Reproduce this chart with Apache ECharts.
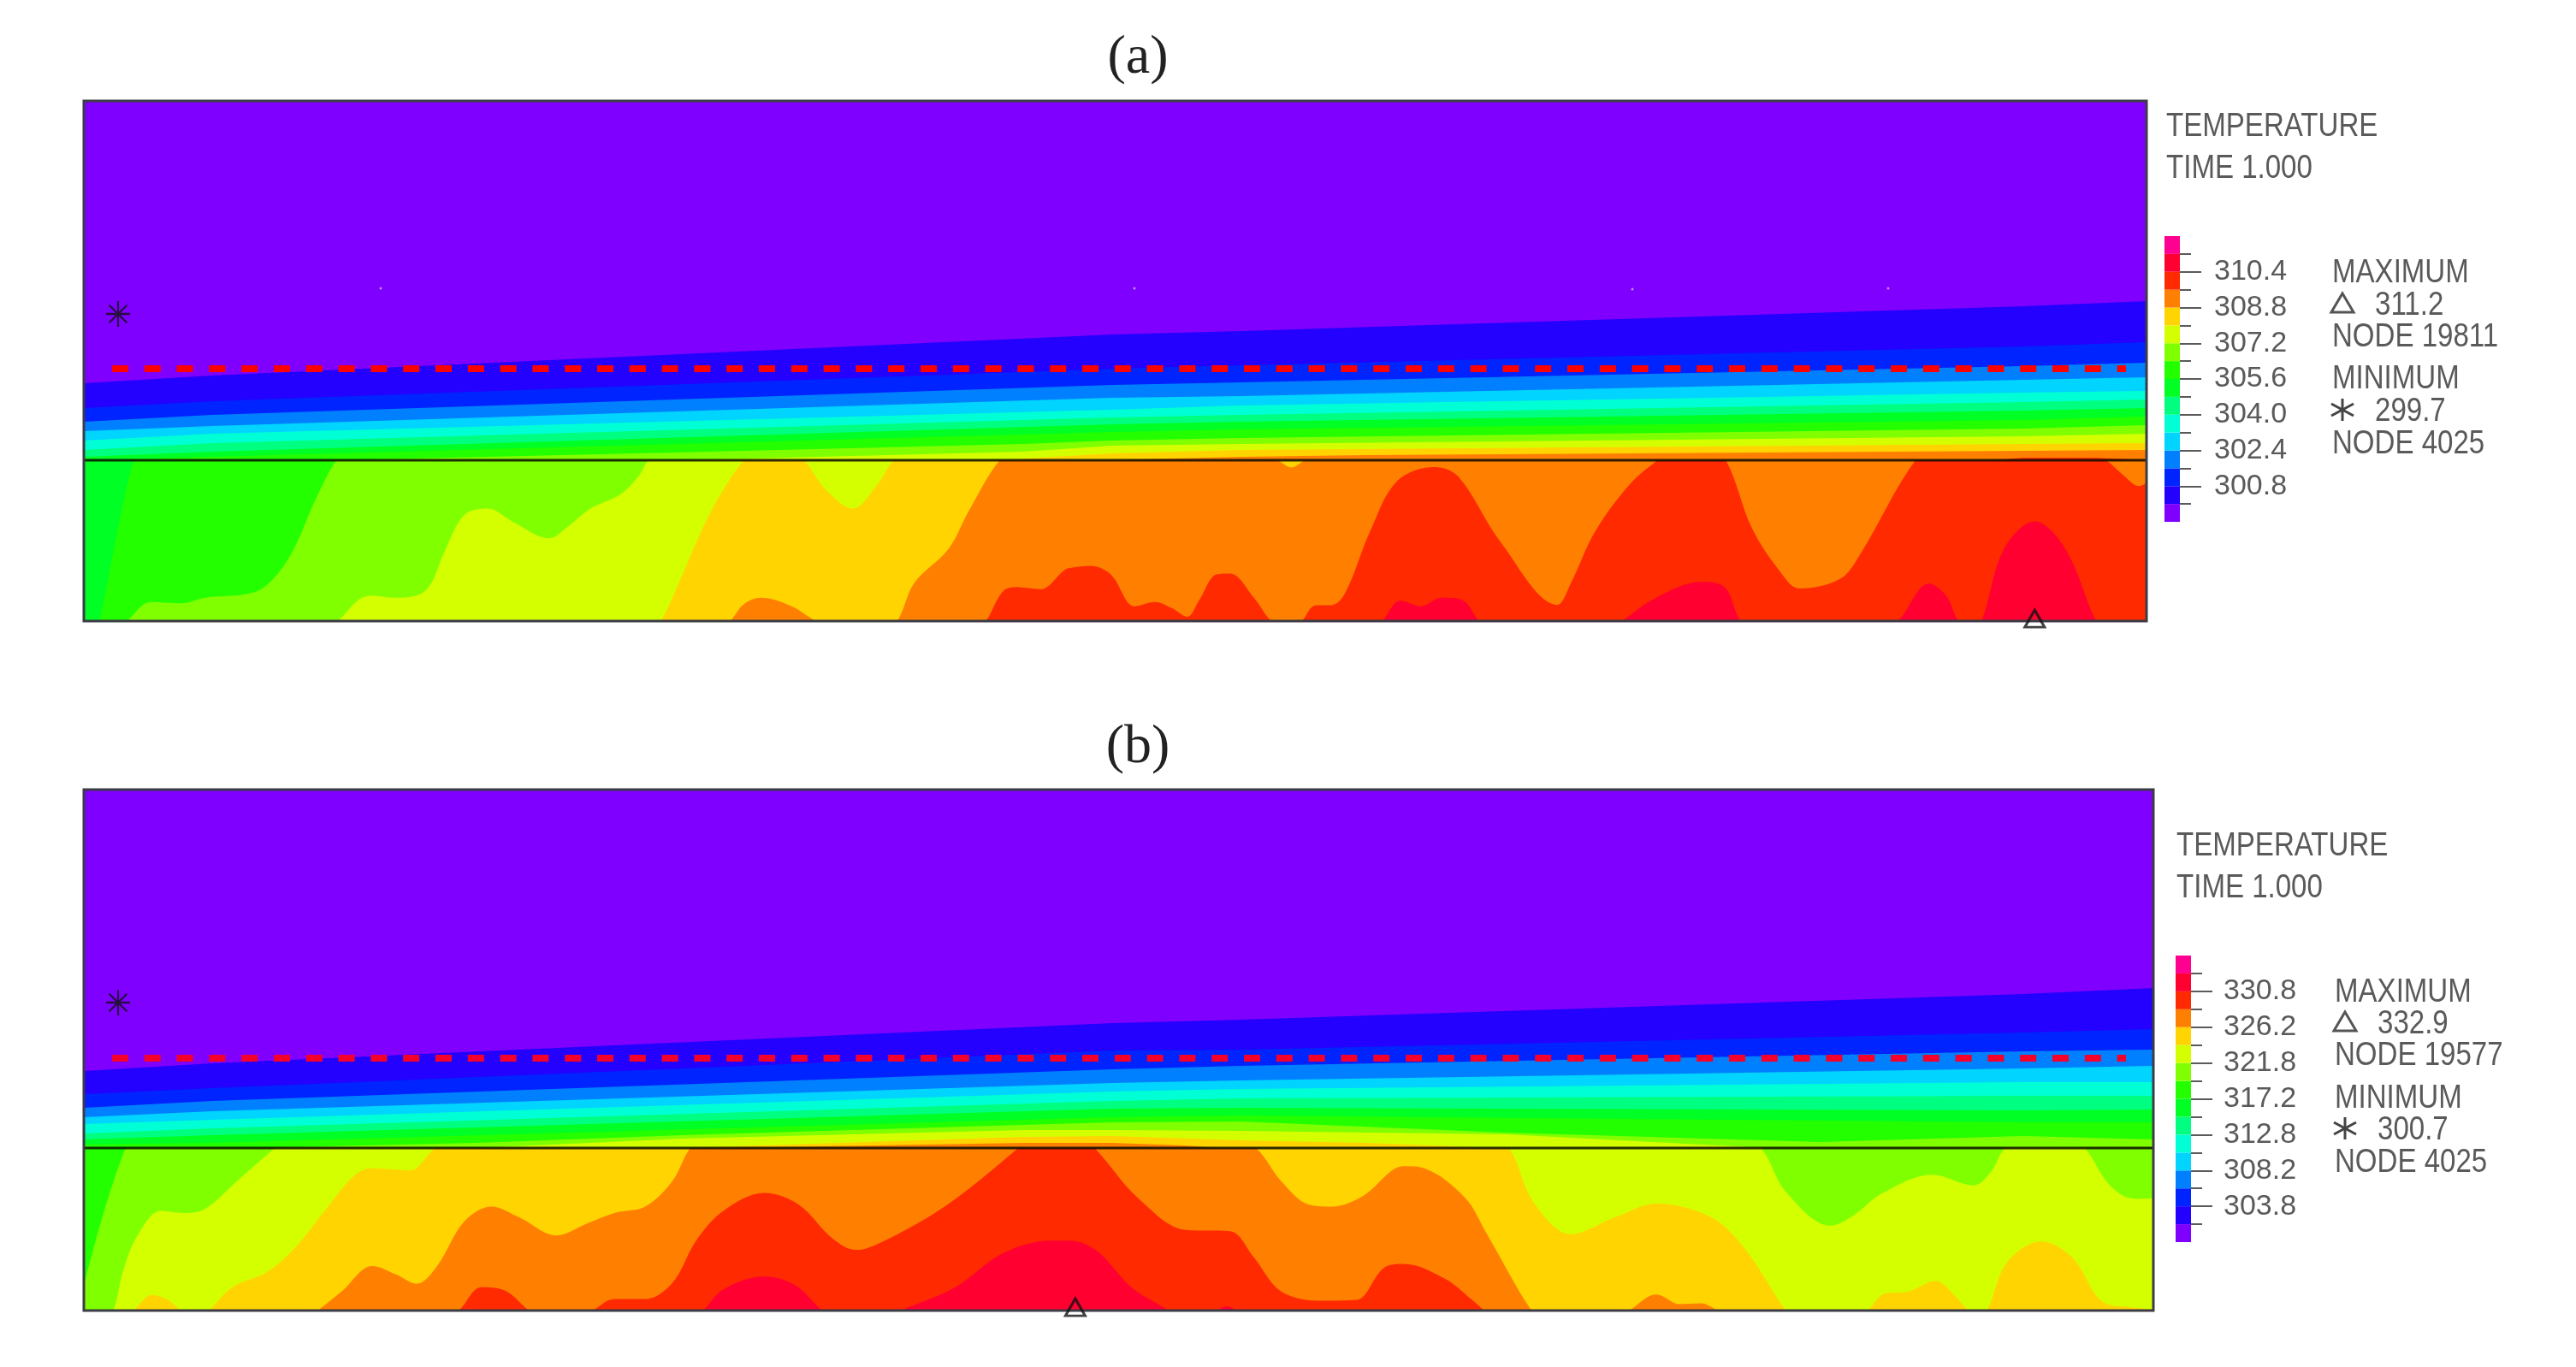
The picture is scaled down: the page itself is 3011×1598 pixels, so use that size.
<!DOCTYPE html>
<html>
<head>
<meta charset="utf-8">
<script src="https://cdn.jsdelivr.net/npm/echarts@6/dist/echarts.min.js"></script>
<style>
html,body{margin:0;padding:0;background:#fff}
#main{width:3011px;height:1598px}
</style>
</head>
<body>
<div id="main"></div>
<script>
// colour bands, coolest first
var bandColors = ['#8000ff','#2400ff','#0024ff','#0080ff','#00d4ff','#00ffd4','#00ff80','#00ff24',
                  '#24ff00','#80ff00','#d4ff00','#ffd400','#ff8000','#ff2a00','#ff0030','#ff0090'];

// colour bar labels, every second band edge from the bottom
var labelsA = ['300.8','302.4','304.0','305.6','307.2','308.8','310.4'];
var labelsB = ['303.8','308.2','312.8','317.2','321.8','326.2','330.8'];

// air layer isotherms, panel a: [position, height], one list per band edge
var xa = [0,150,1202,1352,2267,2411];
var upperA = [
    [278,287,335,339,368,374],
    [249,257,295,299,321,326],
    [233,241,276,279,298,302],
    [222,228,261,263,282,285],
    [211,219,247,252,267,269],
    [200,208,238,241,256,259],
    [192,198,230,233,246,249],
    [188,192,221,224,235,239]
];
var upperA8 = [[0,170],[300,188],[732,198],[1098,207],[1202,211],[1352,214],[2267,225],[2411,229]];
var upperA9 = [[0,165],[700,188],[1098,198],[1202,205],[1352,207],[2267,216],[2411,219]];
var upperA10 = [[0,160],[1032,186],[1202,196],[1352,200],[2267,207],[2411,208]];
var upperA11 = [[0,150],[1152,187],[1352,192],[1500,194],[2267,199],[2411,200]];
var upperA12 = [[0,150],[2150,180],[2267,191],[2350,191],[2411,188]];

// solid layer isotherms, panel a
var lowerA8 = [[0,-40],[20,-10],[23,0],[38,120],[58,280],[73,379],[80,400],[3025,400]];
var lowerA9 = [[0,-40],[50,-15],[63,0],[98,45],[143,42],[178,55],[248,67],[278,100],[308,170],[338,280],[370,379],[390,410],[3025,410]];
var lowerA10 = [[0,-40],[360,-15],[373,0],[403,50],[423,60],[453,55],[488,60],[508,85],[528,160],[558,250],[593,265],[628,235],[683,195],[708,220],[743,265],[788,300],[813,340],[828,379],[850,410],[3025,410]];
var lowerA11 = [[0,-40],[830,-15],[846,0],[878,110],[908,220],[938,310],[968,379],[990,410],[1030,410],[1056,379],[1088,310],[1128,265],[1163,320],[1188,379],[1220,410],[3025,410]];
var lowerA12 = [[0,-40],[935,-15],[948,0],[968,40],[993,55],[1038,35],[1073,0],[1090,-15],[1175,-15],[1193,0],[1218,90],[1268,170],[1298,260],[1343,379],[1370,405],[1720,400],[1751,379],[1771,362],[1791,379],[1830,400],[3025,400]];
var lowerA13 = [[0,-40],[1310,-15],[1323,0],[1348,70],[1368,80],[1403,75],[1438,120],[1446,125],[1476,130],[1506,110],[1541,35],[1571,45],[1596,30],[1618,10],[1636,50],[1661,110],[1681,112],[1716,55],[1741,0],[1755,-10],[1775,-10],[1786,0],[1806,37],[1831,38],[1851,70],[1886,210],[1926,330],[1981,363],[2016,340],[2076,190],[2161,38],[2181,90],[2216,210],[2266,320],[2308,379],[2340,410],[2380,410],[2408,379],[2446,220],[2486,120],[2516,77],[2576,100],[2606,160],[2686,379],[2720,410],[2930,410],[2966,379],[2990,345],[3014,318],[3025,325]];
var lowerA14 = [[0,-20],[1890,-20],[1904,0],[1931,48],[1961,35],[1991,55],[2021,50],[2046,0],[2060,-20],[2240,-20],[2256,0],[2306,55],[2371,92],[2406,80],[2429,0],[2445,-20],[2640,-20],[2661,0],[2706,88],[2731,60],[2749,0],[2766,-20],[2770,-20],[2783,0],[2816,170],[2861,235],[2906,170],[2951,0],[2965,-20],[3025,-20]];

// air layer isotherms, panel b
var xb = [0,150,1202,1352,2267,2419];
var upperB = [
    [280,289,336,340,370,377],
    [253,260,304,305,325,329],
    [237,245,282,286,303,305],
    [226,233,266,269,283,286],
    [218,223,256,259,267,267],
    [207,213,245,248,251,251],
    [200,205,236,237,234,235],
    [194,196,226,228,220,220]
];
var upperB8 = [[0,180],[150,189],[460,196],[699,205],[1098,217],[1202,220],[1352,221],[1662,208],[2029,197],[2267,204],[2419,200]];
var upperB9 = [[0,170],[460,190],[699,201],[1098,211],[1202,211],[1352,210],[1662,206],[1949,191],[2020,188],[2300,180],[2419,180]];
var upperB10 = [[0,165],[700,190],[1098,203],[1202,204],[1352,199],[1500,196],[1650,190],[1800,180],[2419,170]];
var upperB11 = [[0,160],[750,190],[1098,196],[1202,196],[1287,193],[1352,188],[1450,180],[2419,170]];

// solid layer isotherms, panel b
var lowerB9 = [[0,57],[28,225],[60,378],[70,400],[3035,400]];
var lowerB10 = [[0,-40],[30,-15],[43,0],[58,95],[78,175],[113,235],[148,230],[178,240],[228,310],[278,380],[300,410],[2430,410],[2461,380],[2496,280],[2561,200],[2596,225],[2636,275],[2711,320],[2771,295],[2796,325],[2816,380],[2840,410],[2910,410],[2936,380],[2966,305],[2991,270],[3014,263],[3035,265]];
var lowerB11 = [[0,-40],[60,-15],[73,0],[100,37],[123,25],[143,0],[165,-10],[170,-10],[183,0],[218,55],[268,90],[308,145],[358,245],[398,320],[423,335],[478,330],[513,380],[540,410],[2060,410],[2091,380],[2126,255],[2181,180],[2246,220],[2306,252],[2386,220],[2436,145],[2496,0],[2510,-15],[2600,-15],[2616,0],[2641,40],[2676,45],[2716,70],[2741,40],[2764,0],[2775,-10],[2780,-10],[2791,0],[2821,115],[2871,163],[2916,125],[2961,20],[3006,7],[3035,3]];
var lowerB12 = [[0,-40],[330,-15],[343,0],[378,45],[423,105],[458,85],[488,63],[518,105],[558,210],[598,245],[638,220],[693,177],[738,205],[778,230],[823,245],[863,305],[888,380],[910,410],[1690,410],[1721,380],[1756,305],[1796,250],[1831,245],[1876,270],[1936,340],[1966,335],[2026,265],[2056,185],[2123,0],[2140,-15],[2250,-15],[2266,0],[2306,38],[2341,15],[2371,17],[2396,0],[2410,-15],[3035,-15]];
var lowerB13 = [[0,-40],[535,-12],[550,0],[583,55],[618,47],[653,0],[670,-12],[730,-12],[746,0],[778,27],[823,27],[863,65],[898,165],[938,235],[998,277],[1048,250],[1098,170],[1133,143],[1168,160],[1248,230],[1308,300],[1368,380],[1390,410],[1460,410],[1484,380],[1546,265],[1616,190],[1681,187],[1716,125],[1756,45],[1816,23],[1866,25],[1906,100],[1936,110],[1996,75],[2036,25],[2054,0],[2070,-15],[3035,-15]];
var lowerB14 = [[0,-20],[895,-12],[908,0],[938,50],[998,80],[1043,60],[1083,0],[1100,-12],[1180,-12],[1198,0],[1278,55],[1348,135],[1418,165],[1446,165],[1486,140],[1536,55],[1586,5],[1591,0],[1640,-8],[1661,0],[1676,10],[1691,0],[1710,-12],[3035,-12]];

// markers
var specksA = [[347,389],[1040,316],[1228,389],[1810,388],[2109,389]];
var starA = [[40,359]], starB = [[40,360]];
var peakA = [[2861,6]], peakB = [[1454,8]];
var probeX = [33,2387], probeY = 295;

// text blocks
var textA = ['TEMPERATURE','TIME 1.000','MAXIMUM','311.2','NODE 19811','MINIMUM','299.7','NODE 4025'];
var textB = ['TEMPERATURE','TIME 1.000','MAXIMUM','332.9','NODE 19577','MINIMUM','300.7','NODE 4025'];

var textFont = '"Liberation Sans",sans-serif';
var inkGrey = '#5a5a5a';

var grids = [], xAxes = [], yAxes = [], series = [], graphics = [];

function addGrid(left, top, width, height, xMax, yMin, yMax, bg) {
    grids.push({show: true, left: left, top: top, width: width, height: height, backgroundColor: bg, borderWidth: 0});
    var i = grids.length - 1;
    xAxes.push({type: 'value', gridIndex: i, min: 0, max: xMax, show: false});
    yAxes.push({type: 'value', gridIndex: i, min: yMin, max: yMax, show: false});
    return i;
}

function addBand(grid, data, colorIndex, smooth) {
    series.push({
        type: 'line', name: 'band' + colorIndex, xAxisIndex: grid, yAxisIndex: grid, data: data,
        smooth: smooth, showSymbol: false, silent: true, clip: true,
        lineStyle: {width: 0},
        areaStyle: {color: bandColors[colorIndex], opacity: 1, origin: 'start'}
    });
}

function zipX(xs, ys) {
    return ys.map(function (y, i) { return [xs[i], y]; });
}

function addMarkers(grid, yBase, star, red) {
    series.push({
        type: 'line', xAxisIndex: grid, yAxisIndex: grid, clip: false, showSymbol: false,
        data: [[probeX[0], probeY], [probeX[1], probeY]],
        lineStyle: {color: red, width: 8, type: [19, 18.8]}
    });
    series.push({
        type: 'line', xAxisIndex: grid, yAxisIndex: grid, clip: false, showSymbol: false,
        data: [[0, yBase], [xAxes[grid].max, yBase]],
        lineStyle: {color: 'rgba(10,10,0,0.85)', width: 3}
    });
    series.push({
        type: 'scatter', xAxisIndex: grid, yAxisIndex: grid, clip: false, data: star,
        symbol: 'path://M12 0V26M3 4L21 22M21 4L3 22M0 13H24', symbolSize: [28, 30],
        itemStyle: {color: 'transparent', borderColor: '#111', borderWidth: 2.2}
    });
}

function addPeak(grid, peak) {
    series.push({
        type: 'scatter', xAxisIndex: grid, yAxisIndex: grid, clip: false, data: peak,
        symbol: 'triangle', symbolSize: [23, 20], z: 5,
        itemStyle: {color: 'transparent', borderColor: '#111', borderWidth: 3}
    });
}

function addColorBar(left, top, width, height, labels, margin) {
    grids.push({left: left, top: top, width: width, height: height});
    var i = grids.length - 1;
    xAxes.push({type: 'category', gridIndex: i, data: [''], show: false});
    yAxes.push({
        type: 'value', gridIndex: i, min: 0, max: 16, interval: 2, position: 'right',
        axisLine: {show: false}, splitLine: {show: false},
        axisTick: {show: true, length: 25, customValues: [2,4,6,8,10,12,14], lineStyle: {color: inkGrey, width: 2}},
        minorTick: {show: true, splitNumber: 2, length: 13, lineStyle: {color: inkGrey, width: 2}},
        axisLabel: {
            show: true, customValues: [2,4,6,8,10,12,14], margin: margin,
            color: inkGrey, fontSize: 34, fontFamily: textFont,
            formatter: function (v) { return labels[v / 2 - 1] || ''; }
        }
    });
    bandColors.forEach(function (c) {
        series.push({type: 'bar', xAxisIndex: i, yAxisIndex: i, stack: 'bar' + i, data: [1], barWidth: '100%', silent: true, itemStyle: {color: c}});
    });
}

function addFrame(x, y, w, h, lineY) {
    graphics.push({type: 'rect', z: 4, silent: true, shape: {x: x, y: y, width: w, height: h},
        style: {fill: 'transparent', stroke: '#3c3c46', lineWidth: 3}});
}

function addText(str, x, y) {
    graphics.push({type: 'text', z: 100, silent: true, x: x, y: y + 3, scaleX: 0.87, style: {
        text: str, fill: inkGrey, fontSize: 38, fontFamily: textFont, textVerticalAlign: 'middle', textAlign: 'left'}});
}

function addLegendText(t, x0, y0, x1, x2, rows) {
    addText(t[0], x0, y0[0]);
    addText(t[1], x0, y0[1]);
    addText(t[2], x1, rows[0]);
    addText(t[3], x2, rows[1]);
    addText(t[4], x1, rows[2]);
    addText(t[5], x1, rows[3]);
    addText(t[6], x2, rows[4]);
    addText(t[7], x1, rows[5]);
    // triangle and star keys in front of the max/min values
    var cx = x1 + 12;
    graphics.push({type: 'polygon', z: 100, silent: true,
        shape: {points: [[cx, rows[1] - 12], [cx + 13, rows[1] + 10], [cx - 13, rows[1] + 10]]},
        style: {fill: 'transparent', stroke: '#555', lineWidth: 3}});
    [[0, -13, 0, 13], [-13, -7, 13, 7], [-13, 7, 13, -7]].forEach(function (s) {
        graphics.push({type: 'line', z: 100, silent: true,
            shape: {x1: cx + s[0], y1: rows[4] + s[1], x2: cx + s[2], y2: rows[4] + s[3]},
            style: {stroke: '#444', lineWidth: 3}});
    });
}

function addCaption(str, x, y) {
    graphics.push({type: 'text', z: 100, silent: true, x: x, y: y, style: {
        text: str, fill: '#222', fontSize: 64, fontFamily: '"Liberation Serif",serif',
        textVerticalAlign: 'middle', textAlign: 'center'}});
}

// panel a
var gUpA = addGrid(98, 118, 2411, 420, 2411, 188, 608, bandColors[0]);
upperA.forEach(function (ys, i) { addBand(gUpA, zipX(xa, ys), i + 1, false); });
addBand(gUpA, upperA8, 9, false);
addBand(gUpA, upperA9, 10, false);
addBand(gUpA, upperA10, 11, false);
addBand(gUpA, upperA11, 12, false);
addBand(gUpA, upperA12, 13, false);
var gLowA = addGrid(98, 538, 2411, 188, 3025, 0, 379, bandColors[7]);
[lowerA8, lowerA9, lowerA10, lowerA11, lowerA12, lowerA13, lowerA14].forEach(function (d, i) {
    addBand(gLowA, d, i + 8, 0.35);
});
addMarkers(gUpA, 188, starA, '#ff0000');
series.push({type: 'scatter', xAxisIndex: gUpA, yAxisIndex: gUpA, data: specksA, symbolSize: 3, itemStyle: {color: '#cfa8ff'}});
addPeak(gLowA, peakA);
addColorBar(2530, 276, 18, 334, labelsA, 40);

// panel b
var gUpB = addGrid(98, 923, 2419, 419, 2419, 190, 609, bandColors[0]);
upperB.forEach(function (ys, i) { addBand(gUpB, zipX(xb, ys), i + 1, false); });
addBand(gUpB, upperB8, 9, false);
addBand(gUpB, upperB9, 10, false);
addBand(gUpB, upperB10, 11, false);
addBand(gUpB, upperB11, 12, false);
var gLowB = addGrid(98, 1342, 2419, 190, 3035, 0, 383, bandColors[8]);
[lowerB9, lowerB10, lowerB11, lowerB12, lowerB13, lowerB14].forEach(function (d, i) {
    addBand(gLowB, d, i + 9, 0.35);
});
addMarkers(gUpB, 190, starB, '#f5002a');
addPeak(gLowB, peakB);
addColorBar(2543, 1117, 18, 335, labelsB, 38);

addFrame(98, 118, 2411, 608);
addFrame(98, 923, 2419, 609);
addLegendText(textA, 2532, [146, 195], 2726, 2776, [317, 355, 392, 441, 479, 517]);
addLegendText(textB, 2544, [987, 1036], 2729, 2779, [1158, 1195, 1232, 1282, 1319, 1357]);
addCaption('(a)', 1330, 68);
addCaption('(b)', 1330, 874);

var chart = echarts.init(document.getElementById('main'));
chart.setOption({
    animation: false,
    backgroundColor: '#fff',
    grid: grids,
    xAxis: xAxes,
    yAxis: yAxes,
    series: series,
    graphic: {elements: graphics}
});
</script>
</body>
</html>
